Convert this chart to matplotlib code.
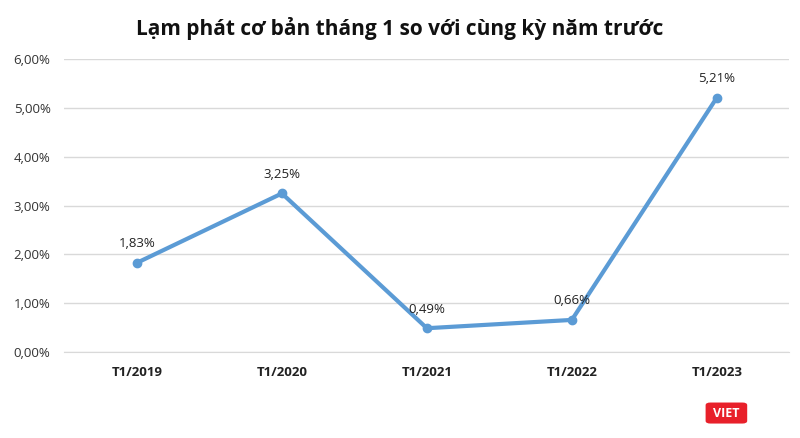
import matplotlib
matplotlib.use("Agg")
import matplotlib.pyplot as plt
from matplotlib.patches import FancyBboxPatch

categories = ["T1/2019", "T1/2020", "T1/2021", "T1/2022", "T1/2023"]
values = [1.83, 3.25, 0.49, 0.66, 5.21]
labels = ["1,83%", "3,25%", "0,49%", "0,66%", "5,21%"]
yticks = [0, 1, 2, 3, 4, 5, 6]
ytick_labels = ["0,00%", "1,00%", "2,00%", "3,00%", "4,00%", "5,00%", "6,00%"]

plt.rcParams['font.family'] = ['Open Sans', 'DejaVu Sans']

fig = plt.figure(figsize=(8, 4.38), dpi=100)
ax = fig.add_axes([0.0806, 0.196, 0.906, 0.669])

x = list(range(len(categories)))
ax.plot(x, values, color='#5B9BD5', linewidth=3, marker='o', markersize=6, zorder=3)
for xi, v, lab in zip(x, values, labels):
    ax.annotate(lab, (xi, v), xytext=(0, 9), textcoords='offset points',
                ha='center', va='bottom', fontsize=9.5, color='#222222')

ax.set_xlim(-0.5, len(categories) - 0.5)
ax.set_ylim(0, 6)
ax.set_yticks(yticks)
ax.set_yticklabels(ytick_labels, fontsize=9.5, color='#333333')
ax.set_xticks(x)
ax.set_xticklabels(categories, fontsize=9.5, fontweight='bold', color='#222222')
ax.grid(axis='y', color='#D9D9D9', linewidth=1)
ax.set_axisbelow(True)
for s in ['top', 'right', 'left']:
    ax.spines[s].set_visible(False)
ax.spines['bottom'].set_color('#D9D9D9')
ax.tick_params(axis='x', length=0, pad=10)
ax.tick_params(axis='y', length=0, pad=10)

fig.text(0.5, 0.935, "Lạm phát cơ bản tháng 1 so với cùng kỳ năm trước",
         ha='center', va='center', fontsize=15, fontweight='bold', color='#111111')

# logo
logo = FancyBboxPatch((0.884, 0.035), 0.048, 0.044, boxstyle="round,pad=0.002,rounding_size=0.006",
                      transform=fig.transFigure, facecolor='#E8202A', edgecolor='none')
fig.patches.append(logo)
fig.text(0.908, 0.057, "VIET", ha='center', va='center', fontsize=9,
         fontweight='bold', color='white')

fig.savefig("out.png", dpi=100)
